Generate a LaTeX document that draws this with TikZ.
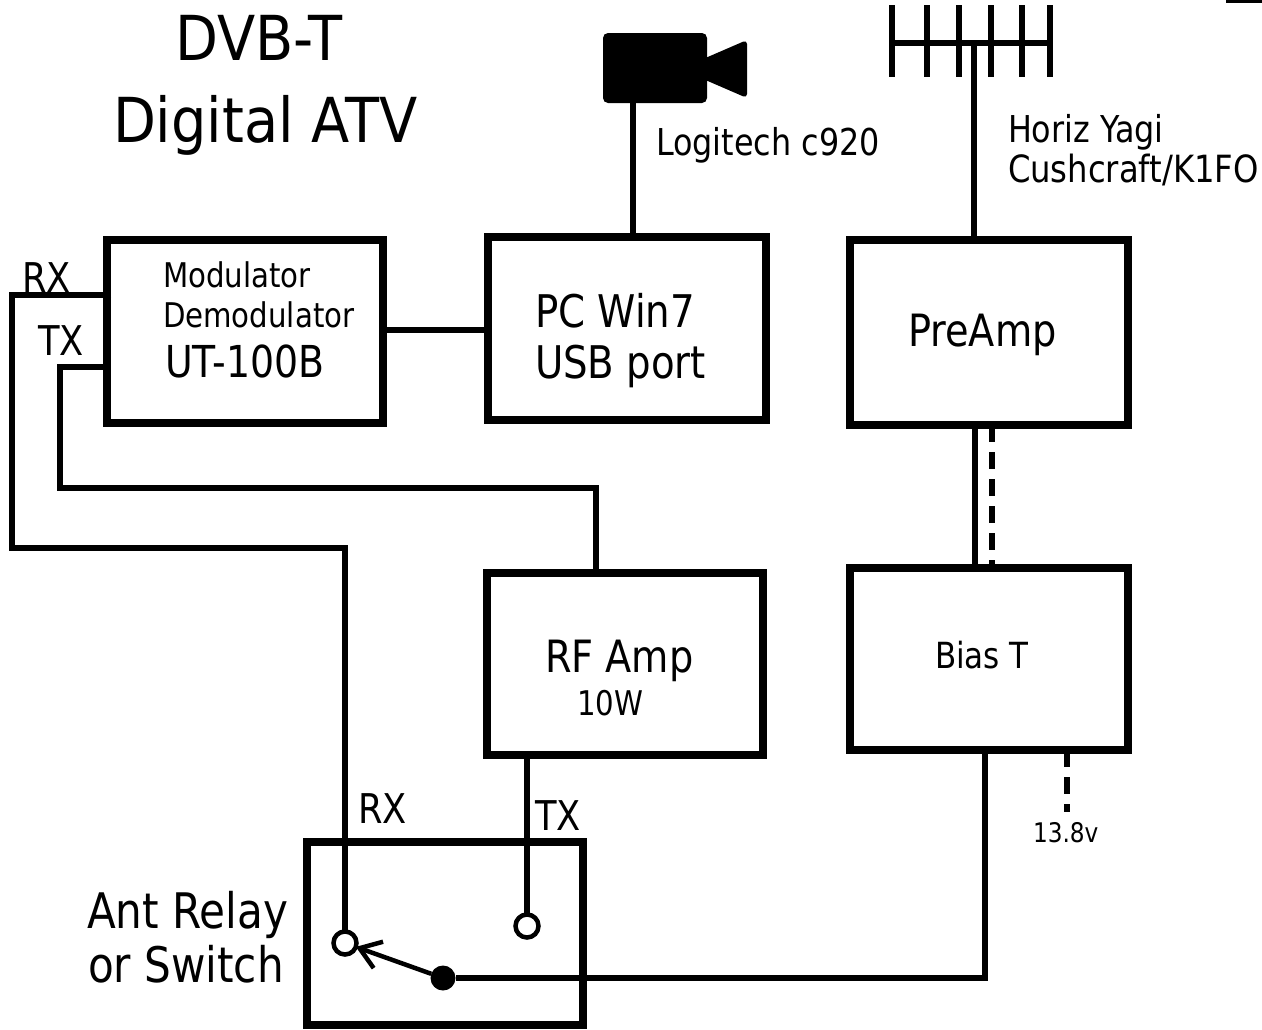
\documentclass[tikz,border=0pt]{standalone}
\usepackage{fontspec}
\setmainfont{DejaVu Sans}[FakeStretch=0.86]
\newfontfamily\titlefont{DejaVu Sans}[FakeStretch=0.9]
\usetikzlibrary{arrows.meta,calc}
\newcommand{\fsz}[1]{\fontsize{#1}{#1}\selectfont}
\begin{document}
\begin{tikzpicture}[x=1pt,y=-1pt,
  blk/.style={draw, rectangle, line width=7.5pt, inner sep=0pt, outer sep=0pt},
  wire/.style={line width=6pt},
  dwire/.style={line width=6pt, dash pattern=on 17pt off 10pt},
  lbl/.style={anchor=base west, inner sep=0pt, outer sep=0pt, text=black},
  contact/.style={circle, draw, line width=4.5pt, minimum size=23pt, inner sep=0pt, outer sep=0pt},
  pivotdot/.style={circle, fill=black, minimum size=25pt, inner sep=0pt, outer sep=0pt}]
\useasboundingbox (0,0) rectangle (1262,1029);
\fill[white] (0,0) rectangle (1262,1029);
\fill[black] (1226,0) rectangle (1262,3);

% title
\node[lbl] (t1) at (175,60) {\titlefont\fsz{62}DVB-T};
\node[lbl] (t2) at (113,142) {\titlefont\fsz{62}Digital ATV};

% camera
\fill[black, rounded corners=5pt] (603,33) rectangle (707,103);
\fill[black, rounded corners=4pt] (680,69) -- (747,40) -- (747,98) -- cycle;
\coordinate (cam) at (633,103);

% antenna
\draw[line width=5.5pt] (892,5) -- (892,77) (927,5) -- (927,77) (959,5) -- (959,77)
  (991,5) -- (991,77) (1022,5) -- (1022,77) (1050,5) -- (1050,77);
\draw[line width=6.5pt] (892,43) -- (1052,43);
\coordinate (ant) at (974,43);

% boxes
\node[blk, minimum width=276pt, minimum height=183pt] (mod) at (245,331.5) {};
\node[blk, minimum width=278pt, minimum height=183pt] (pc) at (627,328.5) {};
\node[blk, minimum width=278pt, minimum height=185pt] (pre) at (989,332.5) {};
\node[blk, minimum width=278pt, minimum height=182pt] (bias) at (989,659) {};
\node[blk, minimum width=276pt, minimum height=182pt] (rf) at (625,664) {};
\node[blk, minimum width=276pt, minimum height=183pt] (sw) at (445,933.5) {};

% labels
\node[lbl] (lcam) at (656,155) {\fsz{37}Logitech c920};
\node[lbl] (lant1) at (1008,142) {\fsz{37}Horiz Yagi};
\node[lbl] (lant2) at (1008,182) {\fsz{37.5}Cushcraft/K1FO};
\node[lbl] (lmod1) at (163,287) {\fsz{34}Modulator};
\node[lbl] (lmod2) at (163,327) {\fsz{34}Demodulator};
\node[lbl] (lmod3) at (165,377) {\fsz{44}UT-100B};
\node[lbl] (lrx1) at (22,292) {\fsz{41}RX};
\node[lbl] (ltx1) at (38,355) {\fsz{41}TX};
\node[lbl] (lpc1) at (535,327) {\fsz{45}PC Win7};
\node[lbl] (lpc2) at (535,378) {\fsz{45}USB port};
\node[lbl] (lpre) at (908,346) {\fsz{44.5}PreAmp};
\node[lbl] (lrf1) at (545,672) {\fsz{44.5}RF Amp};
\node[lbl] (lrf2) at (577,715) {\fsz{34}10W};
\node[lbl] (lbias) at (935,668) {\fsz{36}Bias T};
\node[lbl] (lv) at (1033,842) {\fsz{27}13.8v};
\node[lbl] (lrx2) at (358,823) {\fsz{41}RX};
\node[lbl] (ltx2) at (535,830) {\fsz{41}TX};
\node[lbl] (lsw1) at (87,928) {\fsz{49}Ant Relay};
\node[lbl] (lsw2) at (88,982) {\fsz{49}or Switch};

% switch contacts
\node[contact] (rxc) at (345,943) {};
\node[contact] (txc) at (527,926) {};
\node[pivotdot] (pivot) at (443,978) {};

% connectors
\draw[wire] (cam) -- (cam |- pc.north);
\draw[line width=6.5pt] (ant) -- (ant |- pre.north);
\draw[wire] (mod.east |- 0,330) -- (pc.west |- 0,330);
\draw[wire] ($(pre.south)+(-14,0)$) -- ($(bias.north)+(-14,0)$);
\draw[dwire] ($(pre.south)+(3,0)$) -- ($(bias.north)+(3,0)$);
\coordinate (modrx) at ($(mod.west)+(4,-36.5)$);
\coordinate (modtx) at ($(mod.west)+(0,35.5)$);
\draw[wire] (modrx) -- ++(-99,0) -- ++(0,253) -| (rxc.north);
\draw[wire] (modtx) -- ++(-47,0) -- ++(0,121) -| ($(rf.north)+(-29,0)$);
\draw[wire] ($(rf.south)+(-98,0)$) -- (txc.north);
\draw[wire] ($(bias.south)+(-4,0)$) |- (pivot);
\coordinate (vtop) at ($(bias.south)+(78,0)$);
\draw[dwire] (vtop) -- ++(0,62);
\draw[line width=4.5pt, -{Straight Barb[length=20pt,width=28pt]}] (pivot) -- (rxc);
\end{tikzpicture}
\end{document}
